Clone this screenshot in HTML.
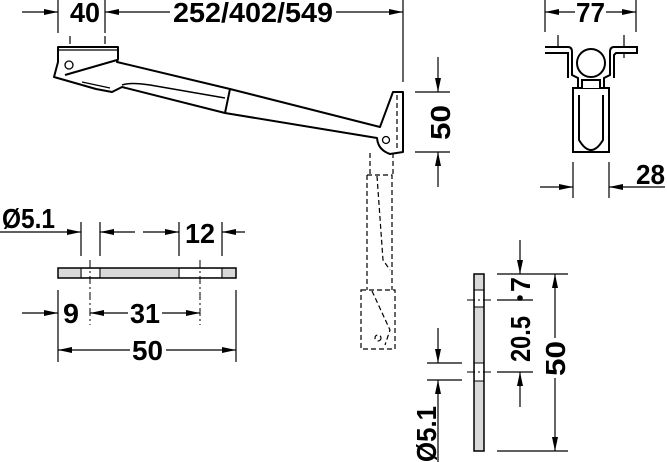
<!DOCTYPE html>
<html><head><meta charset="utf-8"><style>
html,body{margin:0;padding:0;background:#fff;width:667px;height:462px;overflow:hidden}
svg{display:block}
text{font-family:"Liberation Sans",sans-serif;font-weight:bold;font-size:28px;fill:#000}
</style></head><body>
<svg width="667" height="462" viewBox="0 0 667 462" xmlns="http://www.w3.org/2000/svg">
<defs>
<marker id="a" viewBox="0 0 14 6" refX="14" refY="3" markerWidth="14" markerHeight="6" orient="auto-start-reverse" markerUnits="userSpaceOnUse"><path d="M0,0L14,3L0,6z" fill="#000"/></marker>
</defs>
<g stroke="#000" stroke-width="1.2" fill="none">
<line x1="58" y1="0" x2="58" y2="33"/><line x1="105" y1="0" x2="105" y2="33"/>
<line x1="403" y1="0" x2="403" y2="82"/>
<line x1="22" y1="12" x2="58" y2="12" marker-end="url(#a)"/>
<line x1="170" y1="12" x2="105" y2="12" marker-end="url(#a)"/>
<line x1="336" y1="12" x2="403" y2="12" marker-end="url(#a)"/>
<line x1="70" y1="36" x2="70" y2="58" stroke-dasharray="8,3,2,3"/>
<line x1="105" y1="36" x2="105" y2="58" stroke-dasharray="8,3,2,3"/>
</g>
<text x="70" y="22" textLength="30" lengthAdjust="spacingAndGlyphs">40</text>
<text x="173" y="22" textLength="160" lengthAdjust="spacingAndGlyphs">252/402/549</text>
<g stroke="#000" stroke-width="2" fill="#fff" stroke-linejoin="round">
<path d="M58,47 L118,47 L118,59 L117,62 L230,89 L380,127 L393,92 L403,92 L403,152 L390,154 Q378,150 377,138 L225,113 L122,87 L112,92 L96,89 L54,77 L58,62 Z"/>
<line x1="58" y1="50" x2="118" y2="50" stroke-width="1.2"/>
<path d="M65,75 L117,60" fill="none"/>
<path d="M230,89 L225,113" fill="none"/>
<path d="M122,85 Q130,82 150,85 L225,98" fill="none" stroke-width="1.5"/>
<path d="M82,82 L110,88" fill="none" stroke-width="1.2"/>
<circle cx="69" cy="65" r="4" stroke-width="1.3"/>
<circle cx="386" cy="140" r="3.5" stroke-width="1.3"/>
</g>
<g stroke="#000" stroke-width="1.2" fill="none" stroke-dasharray="5,3">
<line x1="397" y1="95" x2="397" y2="150"/>
<line x1="370" y1="153" x2="370" y2="175"/><line x1="393" y1="153" x2="393" y2="175"/>
<path d="M367,175 L392,175 L392,290"/><path d="M367,175 L367,290"/>
<path d="M377,176 L383,260 L390,270"/>
<rect x="361" y="290" width="34" height="59"/>
<path d="M372,291 L390,330 L385,345"/>
<circle cx="378" cy="338" r="3"/>
</g>
<g stroke="#000" stroke-width="1.2" fill="none">
<line x1="415" y1="92" x2="450" y2="92"/><line x1="415" y1="152" x2="450" y2="152"/>
<line x1="438" y1="57" x2="438" y2="92" marker-end="url(#a)"/>
<line x1="438" y1="187" x2="438" y2="152" marker-end="url(#a)"/>
</g>
<text transform="translate(450,140) rotate(-90)" textLength="35" lengthAdjust="spacingAndGlyphs">50</text>
<g stroke="#000" stroke-width="1.2" fill="none">
<line x1="545" y1="0" x2="545" y2="32"/><line x1="636" y1="0" x2="636" y2="32"/>
<line x1="575" y1="12" x2="545" y2="12" marker-end="url(#a)"/>
<line x1="606" y1="12" x2="636" y2="12" marker-end="url(#a)"/>
<line x1="558" y1="35" x2="558" y2="58"/><line x1="624" y1="35" x2="624" y2="58"/>
</g>
<text x="576" y="22" textLength="29" lengthAdjust="spacingAndGlyphs">77</text>
<g stroke="#000" stroke-width="2" fill="#fff">
<path d="M545,47 L568,47 Q572,47 572,52 L572,75 L578,78 L578,88 L604,88 L604,78 L610,75 L610,52 Q610,47 614,47 L637,47 L637,53 L616,53 L614,55 L614,78"/>
<path d="M545,53 L568,53 L568,78"/>
<rect x="573" y="88" width="36" height="64"/>
<path d="M579,95 L579,140 Q591,160 603,140 L603,95"/>
<path d="M582,88 L582,80 L600,80 L600,88"/>
<circle cx="591" cy="63" r="14"/>
</g>
<g stroke="#000" stroke-width="1.2" fill="none">
<line x1="573" y1="162" x2="573" y2="198"/><line x1="609" y1="162" x2="609" y2="198"/>
<line x1="540" y1="187" x2="573" y2="187" marker-end="url(#a)"/>
<line x1="665" y1="187" x2="609" y2="187" marker-end="url(#a)"/>
</g>
<text x="636" y="184" textLength="29" lengthAdjust="spacingAndGlyphs">28</text>
<rect x="58" y="268" width="178" height="10" fill="#d9d9d9" stroke="#000" stroke-width="1.5"/>
<rect x="82" y="269" width="17" height="8" fill="#fff"/>
<rect x="180" y="269" width="41" height="8" fill="#fff"/>
<g stroke="#000" stroke-width="1" fill="none">
<line x1="81" y1="268" x2="81" y2="278"/><line x1="100" y1="268" x2="100" y2="278"/>
<line x1="179" y1="268" x2="179" y2="278"/><line x1="222" y1="268" x2="222" y2="278"/>
<line x1="90" y1="260" x2="90" y2="325" stroke-dasharray="8,3,2,3"/>
<line x1="200" y1="260" x2="200" y2="325" stroke-dasharray="8,3,2,3"/>
</g>
<g stroke="#000" stroke-width="1.2" fill="none">
<line x1="0" y1="232" x2="81" y2="232" marker-end="url(#a)"/>
<line x1="81" y1="222" x2="81" y2="256"/><line x1="100" y1="222" x2="100" y2="256"/>
<line x1="135" y1="232" x2="100" y2="232" marker-end="url(#a)"/>
<line x1="143" y1="232" x2="179" y2="232" marker-end="url(#a)"/>
<line x1="179" y1="222" x2="179" y2="256"/><line x1="222" y1="222" x2="222" y2="256"/>
<line x1="245" y1="232" x2="222" y2="232" marker-end="url(#a)"/>
<line x1="58" y1="290" x2="58" y2="362"/><line x1="236" y1="290" x2="236" y2="362"/>
<line x1="22" y1="313" x2="58" y2="313" marker-end="url(#a)"/>
<line x1="128" y1="313" x2="90" y2="313" marker-end="url(#a)"/>
<line x1="162" y1="313" x2="200" y2="313" marker-end="url(#a)"/>
<line x1="130" y1="350" x2="58" y2="350" marker-end="url(#a)"/>
<line x1="166" y1="350" x2="236" y2="350" marker-end="url(#a)"/>
</g>
<text x="2" y="228" textLength="53" lengthAdjust="spacingAndGlyphs">Ø5.1</text>
<text x="185" y="243" textLength="30" lengthAdjust="spacingAndGlyphs">12</text>
<text x="63" y="323" textLength="16" lengthAdjust="spacingAndGlyphs">9</text>
<text x="130" y="323" textLength="30" lengthAdjust="spacingAndGlyphs">31</text>
<text x="132" y="360" textLength="31" lengthAdjust="spacingAndGlyphs">50</text>
<rect x="474" y="274" width="10" height="177" fill="#d9d9d9" stroke="#000" stroke-width="1.5"/>
<rect x="475" y="290" width="8" height="17" fill="#fff"/>
<rect x="475" y="363" width="8" height="18" fill="#fff"/>
<g stroke="#000" stroke-width="1" fill="none">
<line x1="474" y1="290" x2="484" y2="290"/><line x1="474" y1="307" x2="484" y2="307"/>
<line x1="474" y1="363" x2="484" y2="363"/><line x1="474" y1="381" x2="484" y2="381"/>
<line x1="467" y1="300" x2="493" y2="300" stroke-dasharray="8,3,2,3"/>
<line x1="467" y1="372" x2="493" y2="372" stroke-dasharray="8,3,2,3"/>
</g>
<g stroke="#000" stroke-width="1.2" fill="none">
<line x1="497" y1="274" x2="568" y2="274"/><line x1="497" y1="451" x2="568" y2="451"/>
<line x1="497" y1="300" x2="533" y2="300"/><line x1="497" y1="372" x2="533" y2="372"/>
<line x1="520" y1="240" x2="520" y2="274" marker-end="url(#a)"/>
<line x1="520" y1="407" x2="520" y2="372" marker-end="url(#a)"/>
<line x1="555" y1="338" x2="555" y2="274" marker-end="url(#a)"/>
<line x1="555" y1="378" x2="555" y2="451" marker-end="url(#a)"/>
<line x1="427" y1="363" x2="462" y2="363"/><line x1="427" y1="380" x2="462" y2="380"/>
<line x1="438" y1="328" x2="438" y2="363" marker-end="url(#a)"/>
<line x1="438" y1="462" x2="438" y2="380" marker-end="url(#a)"/>
</g>
<circle cx="520" cy="298" r="2.8" fill="#000"/>
<text transform="translate(530,292) rotate(-90)" textLength="15" lengthAdjust="spacingAndGlyphs">7</text>
<text transform="translate(530,362) rotate(-90)" textLength="46" lengthAdjust="spacingAndGlyphs">20.5</text>
<text transform="translate(565,376) rotate(-90)" textLength="35" lengthAdjust="spacingAndGlyphs">50</text>
<text transform="translate(436,462) rotate(-90)" textLength="56" lengthAdjust="spacingAndGlyphs">Ø5.1</text>
</svg>
</body></html>
